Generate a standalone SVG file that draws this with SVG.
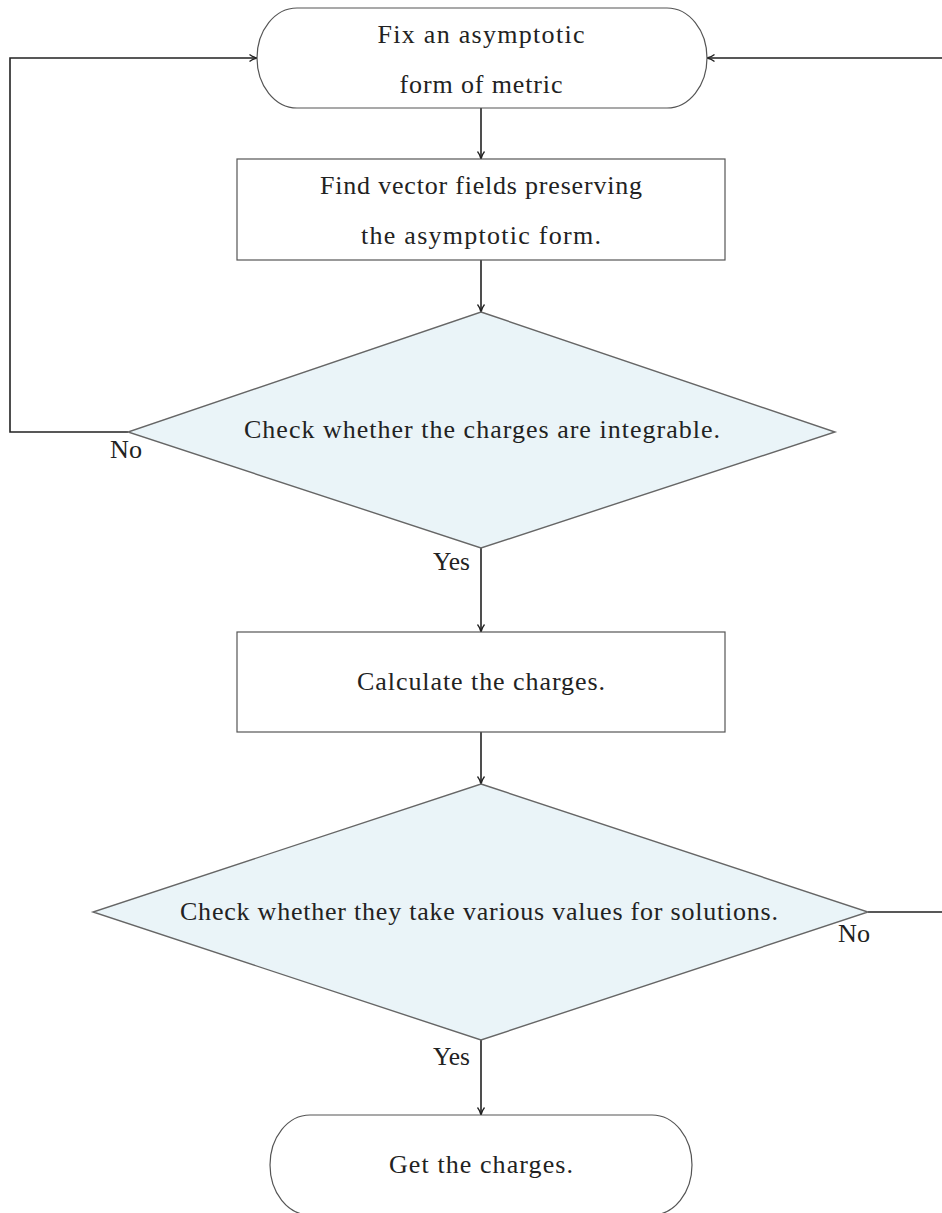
<svg xmlns="http://www.w3.org/2000/svg" width="942" height="1213" viewBox="0 0 942 1213">
<defs>
<style>
.node{fill:#fff;stroke:#555;stroke-width:1.2}
.dia{fill:#eaf4f8;stroke:#666;stroke-width:1.4}
.t{font-family:"Liberation Serif","DejaVu Serif",serif;font-size:26px;fill:#222;text-anchor:middle;dominant-baseline:central}
.lbl{font-family:"Liberation Serif","DejaVu Serif",serif;font-size:25px;fill:#222;dominant-baseline:central}
.edge{fill:none;stroke:#222;stroke-width:1.6}
</style>
<marker id="arr" viewBox="0 0 10 10" refX="9.5" refY="5" markerWidth="10" markerHeight="10" markerUnits="userSpaceOnUse" orient="auto">
<path d="M2,1.5 Q5,4 9.5,5 Q5,6 2,8.5" fill="none" stroke="#222" stroke-width="1.3"/>
</marker>
</defs>
<rect width="942" height="1213" fill="#fff"/>
<g id="connectors">
<line class="edge" x1="481" y1="108" x2="481" y2="159" marker-end="url(#arr)"/>
<line class="edge" x1="481" y1="260" x2="481" y2="312" marker-end="url(#arr)"/>
<line class="edge" x1="481" y1="548" x2="481" y2="632" marker-end="url(#arr)"/>
<line class="edge" x1="481" y1="732" x2="481" y2="784" marker-end="url(#arr)"/>
<line class="edge" x1="481" y1="1040" x2="481" y2="1115" marker-end="url(#arr)"/>
<polyline class="edge" points="128,432 10,432 10,58 257,58" marker-end="url(#arr)"/>
<polyline class="edge" points="868,912 950,912 950,58 707,58" marker-end="url(#arr)"/>
<text class="lbl" x="110" y="449" textLength="32" lengthAdjust="spacingAndGlyphs">No</text>
<text class="lbl" x="838" y="933" textLength="32" lengthAdjust="spacingAndGlyphs">No</text>
<text class="lbl" x="433" y="561" textLength="37" lengthAdjust="spacingAndGlyphs">Yes</text>
<text class="lbl" x="433" y="1056" textLength="37" lengthAdjust="spacingAndGlyphs">Yes</text>
</g>
<g id="start">
<path class="node" d="M297,8 L667,8 A40,50 0 0 1 667,108 L297,108 A40,50 0 0 1 297,8 Z"/>
<text class="t" x="481" y="34" textLength="207" lengthAdjust="spacing">Fix an asymptotic</text>
<text class="t" x="481" y="84" textLength="163" lengthAdjust="spacing">form of metric</text>
</g>
<g id="find">
<rect class="node" x="237" y="159" width="488" height="101"/>
<text class="t" x="481" y="185" textLength="322" lengthAdjust="spacing">Find vector fields preserving</text>
<text class="t" x="481" y="235" textLength="240" lengthAdjust="spacing">the asymptotic form.</text>
</g>
<g id="check1">
<polygon class="dia" points="481,312 835,432 481,548 128,432"/>
<text class="t" x="482" y="429" textLength="476" lengthAdjust="spacing">Check whether the charges are integrable.</text>
</g>
<g id="calc">
<rect class="node" x="237" y="632" width="488" height="100"/>
<text class="t" x="481" y="681" textLength="248" lengthAdjust="spacing">Calculate the charges.</text>
</g>
<g id="check2">
<polygon class="dia" points="481,784 868,912 481,1040 93,912"/>
<text class="t" x="479" y="911" textLength="598" lengthAdjust="spacing">Check whether they take various values for solutions.</text>
</g>
<g id="end">
<path class="node" d="M310,1115 L652,1115 A40,50 0 0 1 652,1215 L310,1215 A40,50 0 0 1 310,1115 Z"/>
<text class="t" x="481" y="1164" textLength="184" lengthAdjust="spacing">Get the charges.</text>
</g>
</svg>
